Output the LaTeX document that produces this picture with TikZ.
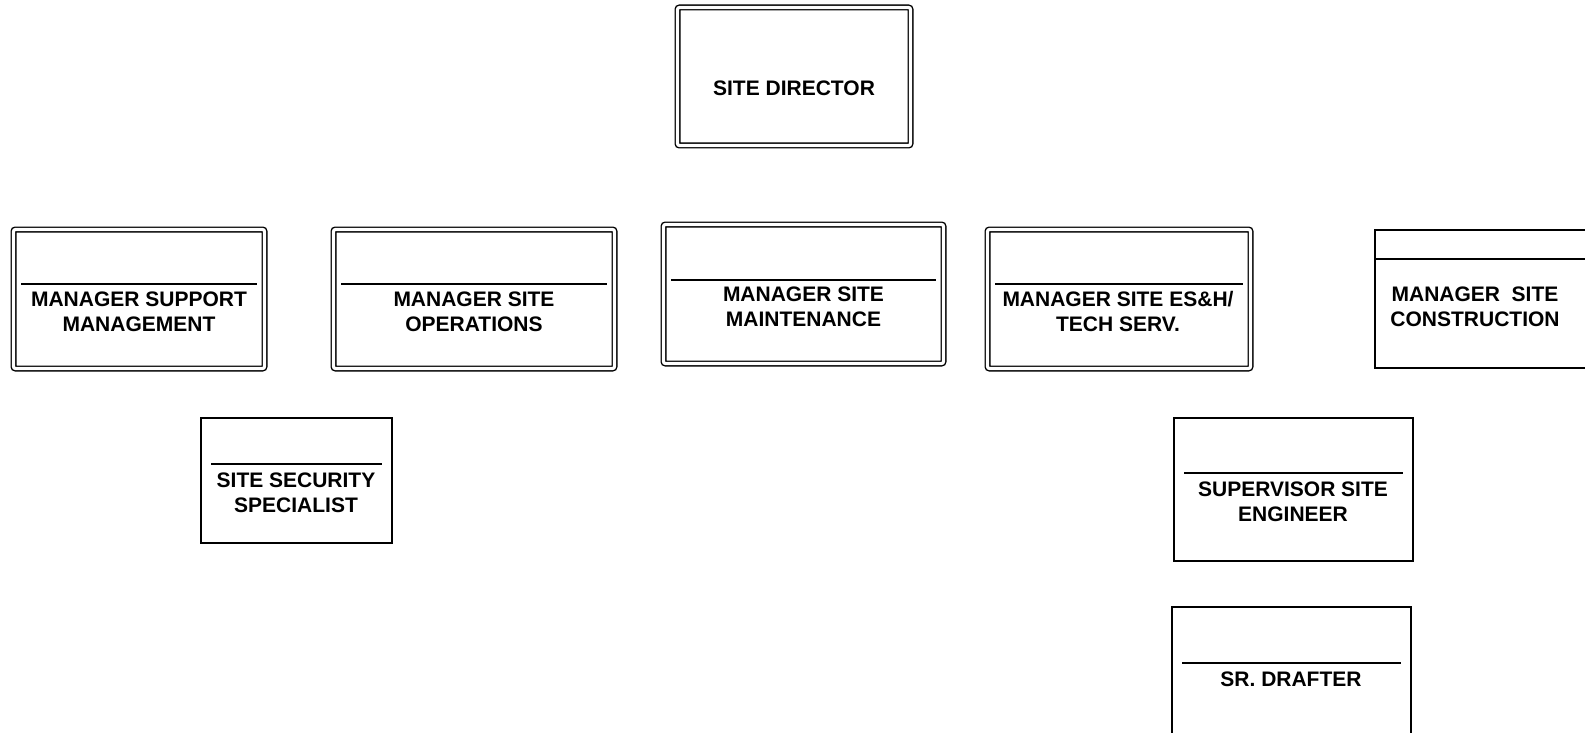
\documentclass[tikz,border=0pt]{standalone}
\usepackage{fontspec}
\setmainfont{Liberation Sans}

\tikzset{
  dbox/.style={draw=black, line width=0.7pt, double=white, double distance=1.6pt, rounded corners=1pt},
  sbox/.style={draw=black, line width=0.7pt},
  title/.style={line width=0.9pt},
  post/.style={font=\fontsize{10.5}{12.5}\selectfont\bfseries, align=center, inner sep=0pt}
}

\begin{document}
\begin{tikzpicture}[x=0.5pt, y=-0.5pt]
    \useasboundingbox (0,0) rectangle (1585,733);
    \clip (0,0) rectangle (1585,733);

    % top
    \node[dbox, minimum width=116.5pt, minimum height=69pt] (dir) at (794,76.5) {};
    \node[post] (dirt) at (794,88) {SITE DIRECTOR};

    % managers
    \node[dbox, minimum width=125.5pt, minimum height=69.5pt] (supp) at (139,299) {};
    \draw[title] (21,284) -- (257,284);
    \node[post] (suppt) at (139,311.5) {MANAGER SUPPORT\\MANAGEMENT};

    \node[dbox, minimum width=140.5pt, minimum height=69.5pt] (ops) at (474,299) {};
    \draw[title] (341,284) -- (607,284);
    \node[post] (opst) at (474,311.5) {MANAGER SITE\\OPERATIONS};

    \node[dbox, minimum width=140pt, minimum height=69.5pt] (mnt) at (803.5,294) {};
    \draw[title] (671,280) -- (936,280);
    \node[post] (mntt) at (803.5,307) {MANAGER SITE\\MAINTENANCE};

    \node[dbox, minimum width=131.5pt, minimum height=69.5pt] (esh) at (1119,299) {};
    \draw[title] (995,284) -- (1243,284);
    \node[post] (esht) at (1118,311.5) {MANAGER SITE ES\&H/\\TECH SERV.};

    \draw[sbox] (1375,230) rectangle (1600,368);
    \draw[sbox] (1375,259) -- (1600,259);
    \node[post] (cons) at (1475,306.5) {MANAGER\ \ SITE\\CONSTRUCTION};

    % staff
    \draw[sbox] (201,418) rectangle (392,543);
    \draw[title] (211,464) -- (382,464);
    \node[post] (sec) at (296,492.5) {SITE SECURITY\\SPECIALIST};

    \draw[sbox] (1174,418) rectangle (1413,561);
    \draw[title] (1184,473) -- (1403,473);
    \node[post] (sup) at (1293,501.5) {SUPERVISOR SITE\\ENGINEER};

    \draw[sbox] (1172,607) rectangle (1411,745);
    \draw[title] (1182,663) -- (1401,663);
    \node[post] (draft) at (1291,679) {SR. DRAFTER};
\end{tikzpicture}
\end{document}
